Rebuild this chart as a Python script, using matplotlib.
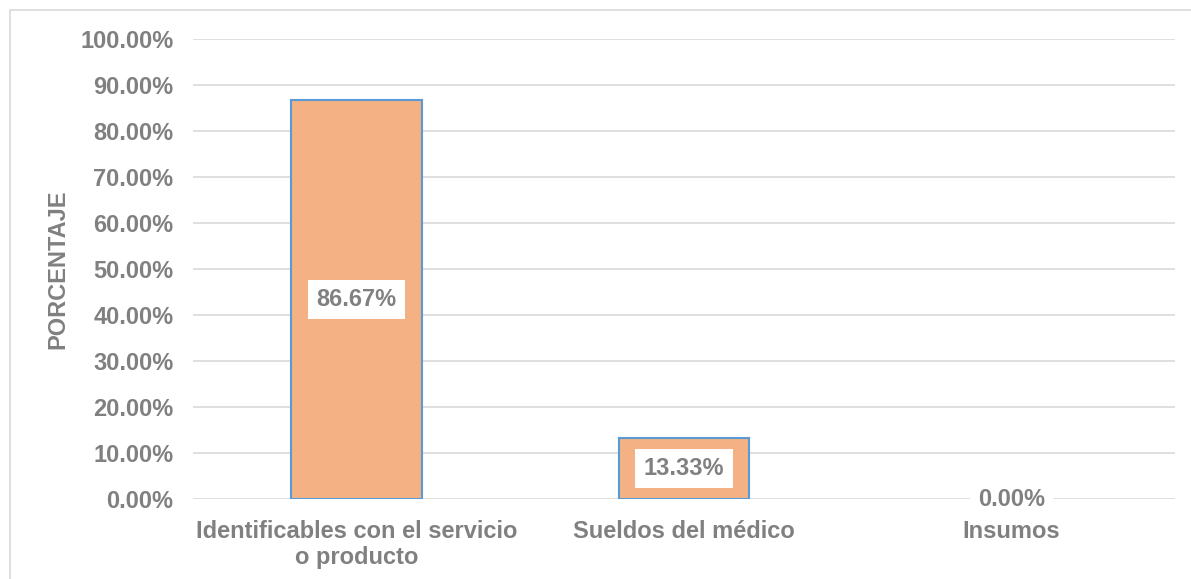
import numpy as np
import matplotlib.pyplot as plt
from matplotlib.patches import Rectangle
from matplotlib.ticker import FuncFormatter

plt.rcParams["font.family"] = ["Liberation Sans", "DejaVu Sans"]

categories = ["Identificables con el servicio\no producto", "Sueldos del médico", "Insumos"]
values = [86.67, 13.33, 0.00]
yticks = np.arange(0, 101, 10)

gray = "#808080"
bar_color = "#F4B183"
edge_color = "#5B9BD5"
fs = 17

fig = plt.figure(figsize=(11.91, 5.79), dpi=100)
# outer chart border (light gray)
fig.patches.append(Rectangle((10 / 1191, -0.1), 1.2, 1 - 10 / 579 + 0.1,
                             transform=fig.transFigure, fill=False,
                             edgecolor="#D9D9D9", linewidth=1.2))

ax = fig.add_axes([193 / 1191, 1 - 499 / 579, 982 / 1191, 460 / 579])
x = np.arange(len(categories))
lw = [1.5 if v > 0 else 0 for v in values]
ax.bar(x, values, width=0.4, color=bar_color, edgecolor=edge_color, linewidth=lw, zorder=3)

ax.set_xlim(-0.5, 2.5)
ax.set_ylim(0, 100)
ax.set_yticks(yticks)
ax.yaxis.set_major_formatter(FuncFormatter(lambda v, p: f"{v:.2f}%"))
ax.grid(axis="y", color="#D9D9D9", linewidth=1.2, zorder=0)
for s in ax.spines.values():
    s.set_visible(False)
ax.tick_params(length=0, labelsize=fs, labelcolor=gray, pad=14)
ax.tick_params(axis="x", pad=15)
ax.set_xticks(x)
ax.set_xticklabels(categories, fontweight="bold", fontsize=fs, linespacing=1.2)
for lbl in ax.get_yticklabels():
    lbl.set_fontweight("bold")

for xi, v in zip(x, values):
    ax.text(xi, v / 2, f"{v:.2f}%", ha="center", va="center", fontsize=fs,
            fontweight="bold", color=gray, zorder=5,
            bbox=dict(boxstyle="square,pad=0.35", facecolor="white", edgecolor="none"))

ax.set_ylabel("PORCENTAJE", fontsize=fs, fontweight="bold", color=gray, labelpad=8)

fig.savefig("out.png", dpi=100)
